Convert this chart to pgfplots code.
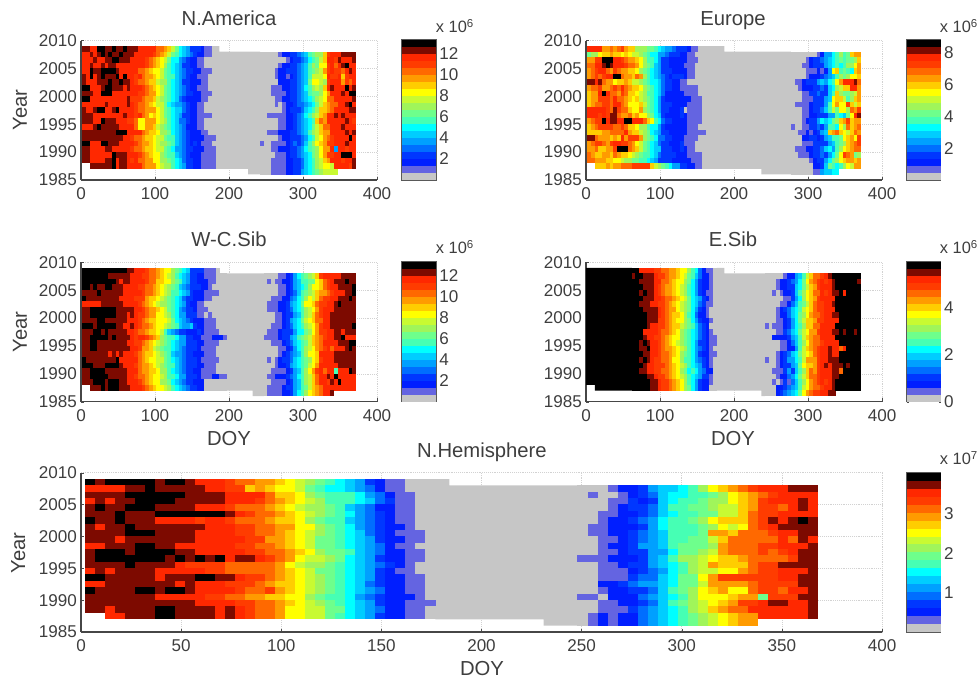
\documentclass[border=0pt]{standalone}
\usepackage{fontspec}
\setmainfont{Liberation Sans}
\usepackage{pgfplots}
\usepackage{pgfplotstable}
\pgfplotsset{compat=1.18}
\definecolor{lvgray}{RGB}{198,198,198}
\definecolor{txt}{RGB}{62,62,62}
\pgfplotsset{colormap={snow}{rgb255=(198,198,198) rgb255=(100,100,225) rgb255=(0,30,255) rgb255=(0,55,255) rgb255=(0,110,255) rgb255=(0,160,255) rgb255=(0,205,255) rgb255=(0,255,255) rgb255=(70,255,180) rgb255=(110,255,140) rgb255=(160,245,90) rgb255=(200,250,50) rgb255=(255,255,0) rgb255=(255,205,0) rgb255=(255,155,0) rgb255=(255,105,0) rgb255=(255,60,0) rgb255=(255,40,0) rgb255=(125,10,0) rgb255=(0,0,0)}}
\pgfdeclareplotmark{cS}{\pgfpathrectangle{\pgfpoint{-1.5pt}{-2.2pt}}{\pgfpoint{3pt}{4.4pt}}\pgfusepathqfill}
\pgfdeclareplotmark{cL}{\pgfpathrectangle{\pgfpoint{-3.85pt}{-2.5pt}}{\pgfpoint{7.7pt}{5pt}}\pgfusepathqfill}
\pgfdeclareplotmark{bS}{\pgfpathrectangle{\pgfpoint{-12.75pt}{-2.72pt}}{\pgfpoint{25.5pt}{5.44pt}}\pgfusepathqfill}
\pgfdeclareplotmark{bL}{\pgfpathrectangle{\pgfpoint{-12.75pt}{-3.08pt}}{\pgfpoint{25.5pt}{6.16pt}}\pgfusepathqfill}
\newcommand\tickfont{\fontsize{12.8}{14}\selectfont}
\pgfplotsset{
 base/.style={scale only axis,point meta min=0,point meta max=19,colormap name=snow,
  /pgf/number format/1000 sep={},/pgf/number format/assume math mode=true,
  tick label style={font=\tickfont,text=txt},tick style={gray!60!black}},
 heat/.style={base,xmin=0,xmax=400,ymin=1985,ymax=2010,ytick={1985,1990,...,2010},
  axis lines*=left,axis line style={gray!55!black,line width=.9pt},
  grid=major,grid style={gray!35,densely dotted,line width=.4pt},tickwidth=2.5pt,
  xticklabel style={yshift=-2.5pt},yticklabel style={xshift=0.5pt}},
 small/.style={heat,width=222pt,height=104.6pt,xtick={0,100,...,400}},
 large/.style={heat,width=600.75pt,height=119.5pt,xtick={0,50,...,400}},
 cbar/.style={base,xmin=0,xmax=1,ymin=0,ymax=20,xtick=\empty,width=25.5pt,yticklabel pos=right,
  axis line style={gray!70!black,line width=.8pt},tickwidth=1.5pt,yticklabel style={xshift=-1pt}},
}
\newcommand\heatmap[4]{\pgfplotsinvokeforeach{1,...,#2}{\addplot[scatter,only marks,mark=#4,scatter src=explicit,scatter/use mapped color={fill=mapped color}] table[x expr={\thisrowno{##1}*0+#3+5*##1-2.5},y expr={\thisrowno{0}+0.5},meta index=##1]{#1};}}
\newcommand\colbar[1]{\addplot[scatter,only marks,mark=#1,scatter src=explicit,scatter/use mapped color={fill=mapped color}] table[x index=0,y index=1,meta index=2]{\cbtab};}
% Values below are colour-bin indices 0..19 (bin width = colour bar range / 20), read per 5-day cell and year.
\pgfplotstableread[header=false]{
0.5 0.5 0
0.5 1.5 1
0.5 2.5 2
0.5 3.5 3
0.5 4.5 4
0.5 5.5 5
0.5 6.5 6
0.5 7.5 7
0.5 8.5 8
0.5 9.5 9
0.5 10.5 10
0.5 11.5 11
0.5 12.5 12
0.5 13.5 13
0.5 14.5 14
0.5 15.5 15
0.5 16.5 16
0.5 17.5 17
0.5 18.5 18
0.5 19.5 19
}\cbtab
% N.America
\pgfplotstableread[header=false]{
2008 18 18 18 17 17  19 19 18 18 19  18 18 19 18 18  18 17 17 17 17  17 15 15 14 13  11 9 7 6 5  3 3 3 2 1  1 0
2007 17 17 17 18 17  18 19 18 19 18  18 19 18 18 18  17 17 17 17 17  16 15 14 13 11  9 8 7 6 5  4 3 2 2 1  1 0
2006 17 17 17 17 18  17 17 18 18 19  19 18 18 18 17  17 17 17 16 15  14 13 12 11 9  7 7 5 4 3  2 2 1 1 0  0 0
2005 17 17 17 18 17  17 18 17 18 18  17 17 17 17 17  17 17 17 16 15  14 13 12 10 8  7 6 5 3 3  2 2 1 1 0  0 0
2004 17 17 17 19 18  18 19 19 19 19  18 17 17 17 17  17 15 15 14 13  12 12 11 9 8  7 6 5 4 3  3 2 2 1 1  1 0
2003 18 18 17 19 17  18 19 18 18 18  19 17 19 17 17  16 17 15 14 14  13 12 11 9 8  8 6 5 4 3  2 2 1 1 1  0 0
2002 18 18 17 17 17  18 18 18 19 18  18 19 18 18 17  16 15 15 14 13  13 11 10 10 8  7 6 5 3 3  2 2 2 1 1  0 0
2001 19 19 19 17 17  17 18 19 19 18  18 18 17 18 17  17 17 16 15 14  13 12 11 9 8  7 6 5 4 3  2 2 1 1 1  0 0
2000 18 18 18 18 17  17 19 19 19 17  17 17 17 17 17  17 16 16 15 14  14 12 11 9 8  7 6 5 4 3  3 2 2 1 1  1 0
1999 19 19 19 17 17  17 17 17 17 17  17 17 17 18 16  16 16 15 14 14  13 11 10 9 8  7 6 4 3 2  2 2 2 1 1  0 0
1998 17 17 17 17 17  17 17 18 17 17  17 17 17 18 17  16 15 15 14 13  12 11 11 9 7  6 5 5 4 3  2 2 1 1 0  0 0
1997 17 18 17 17 18  19 19 17 17 18  19 17 17 17 17  16 15 15 14 14  14 12 11 9 8  7 6 6 4 3  2 2 1 1 0  0 0
1996 18 18 18 18 17  17 17 17 17 17  17 17 18 17 17  16 17 15 14 12  13 12 11 9 8  7 6 5 3 3  2 2 1 1 1  1 0
1995 18 18 18 18 17  17 19 18 18 18  17 17 17 16 16  15 12 12 14 14  14 12 11 10 8  7 6 4 4 3  2 2 1 1 0  0 0
1994 17 17 17 17 18  19 18 18 18 18  18 17 17 17 17  15 12 12 14 14  13 11 10 9 8  7 6 5 4 2  2 2 1 1 0  0 0
1993 18 18 18 18 18  18 18 18 18 18  19 19 19 17 17  17 17 15 14 13  13 12 10 10 9  7 6 5 4 3  2 2 2 1 1  0 0
1992 18 18 18 18 18  18 18 18 18 18  18 18 17 17 16  15 15 14 13 13  12 11 11 9 8  8 6 5 4 3  2 2 2 2 1  1 1
1991 19 19 19 17 17  17 19 19 18 18  18 17 17 17 17  16 15 14 14 13  12 11 10 10 9  8 6 5 4 3  2 3 2 1 1  1 0
1990 18 18 18 17 17  17 17 18 18 17  17 17 17 17 16  15 15 14 13 13  12 11 11 9 8  7 5 5 4 3  3 2 2 2 1  1 1
1989 18 18 18 17 17  17 17 17 17 19  18 18 18 17 17  17 16 15 14 13  12 12 10 9 8  8 6 5 4 3  2 2 2 1 1  1 1
1988 18 18 18 17 17  17 17 18 18 19  17 18 18 17 16  17 15 15 14 14  12 12 10 10 9  8 7 6 4 3  3 2 2 1 1  1 1
1987 nan nan nan 18 18  18 18 18 18 19  17 18 18 17 17  17 17 15 14 14  14 12 11 10 10  8 7 6 5 3  3 2 2 1 1  1 1
}\naL
\pgfplotstableread[header=false]{
2007 0 0 0 0 0  1 2 2 3 3  4 5 6 8 9  10 10 13 16 17  17 17 18 18 18  18
2006 0 0 0 0 0  0 0 1 2 3  3 4 5 7 8  9 11 13 17 17  16 18 17 17 17  18
2005 0 0 0 0 0  1 2 2 3 3  4 5 6 8 10  9 12 12 16 17  15 17 18 19 17  17
2004 0 0 0 0 1  2 2 3 3 3  4 5 6 8 9  10 11 14 16 17  16 16 15 17 18  17
2003 0 0 0 0 1  2 2 1 2 3  4 5 6 8 11  11 11 12 17 16  16 17 13 16 17  17
2002 0 0 0 0 0  2 2 2 3 3  4 5 6 9 12  12 11 10 16 17  17 17 14 16 15  17
2001 0 0 0 1 1  1 2 2 3 3  4 5 7 8 10  11 10 13 17 18  17 17 17 19 17  18
2000 0 0 0 1 1  1 1 2 3 3  4 5 6 8 9  9 10 12 14 17  17 17 18 17 19  19
1999 0 0 0 0 1  1 2 2 3 3  4 5 6 7 8  10 11 12 15 15  17 17 17 17 17  18
1998 0 0 0 0 1  0 1 2 2 3  4 4 5 6 7  9 11 13 14 15  15 17 17 18 19  17
1997 0 0 0 0 0  0 1 2 3 3  3 4 6 7 8  10 13 13 14 15  17 17 17 17 18  18
1996 0 0 1 1 1  1 1 2 2 3  4 5 7 8 10  11 13 14 17 17  18 17 18 17 17  17
1995 0 0 0 0 0  1 1 2 2 3  4 5 6 7 8  13 15 14 17 17  17 17 17 18 17  16
1994 0 0 0 0 0  1 1 2 2 3  4 5 6 7 9  11 13 15 15 17  17 17 18 17 17  17
1993 0 0 1 1 1  2 2 2 3 3  4 5 6 8 10  11 13 14 14 17  17 17 17 18 17  18
1992 0 0 0 0 0  1 2 2 3 3  3 4 5 7 8  11 12 14 15 16  17 17 17 17 19  17
1991 1 0 0 1 1  1 1 2 3 4  3 4 6 8 10  12 13 14 16 16  17 17 17 18 17  17
1990 0 0 0 1 1  2 2 2 3 3  4 5 7 8 9  10 12 14 14 17  5 17 17 16 17  17
1989 0 0 0 0 1  1 1 2 3 3  4 5 6 7 9  10 12 14 16 16  17 17 19 19 19  17
1988 0 0 0 1 1  1 1 2 2 3  3 4 6 7 8  10 11 13 14 17  17 17 16 17 17  18
1987 0 0 0 1 1  1 1 2 2 3  3 4 6 7 8  10 11 12 12 11  17 17 17 17 16  18
1986 0 0 0 1 1  1 1 2 2 3  3 5 6 7 8  9 10 11 11 11  11 nan nan nan nan  nan
}\naR
% Europe
\pgfplotstableread[header=false]{
2008 17 17 17 17 17  14 14 15 14 15  16 14 13 13 10  10 10 9 9 8  7 6 5 5 4  3 3 3 2 1  1 0 0
2007 9 9 10 10 12  13 13 14 13 13  12 13 12 11 11  10 9 8 7 7  5 5 4 3 3  3 2 2 1 1  0 0 0
2006 14 14 14 16 16  19 19 19 17 17  16 15 14 14 13  12 10 8 8 7  5 3 3 2 2  2 2 2 1 1  1 0 0
2005 14 15 15 17 17  18 19 18 17 17  17 16 15 15 14  12 10 9 8 6  5 3 3 2 2  2 2 1 1 1  0 0 0
2004 13 14 15 16 17  17 15 14 16 15  14 14 13 13 12  10 9 8 7 6  5 3 3 3 2  2 2 2 1 1  0 0 0
2003 14 14 15 16 15  16 17 17 19 19  15 14 14 13 15  14 10 8 7 6  5 4 3 2 3  3 3 2 1 1  0 0 0
2002 18 18 18 17 18  15 14 14 12 13  13 14 13 11 11  10 9 8 7 7  6 4 3 3 2  2 1 1 0 0  0 0 0
2001 14 14 15 15 16  14 14 15 16 15  17 15 14 13 13  12 10 9 8 7  6 4 3 3 2  2 1 1 1 1  1 0 0
2000 13 13 14 14 17  19 17 15 15 14  16 15 13 13 12  11 10 8 8 7  6 4 2 2 2  2 2 1 1 1  1 0 0
1999 13 13 14 14 16  16 16 15 17 15  15 14 13 12 13  11 10 9 8 7  5 3 2 2 2  2 2 2 2 1  1 1 0
1998 13 13 14 15 15  16 16 15 17 17  15 14 12 12 12  13 11 9 8 7  5 3 3 3 2  2 2 2 1 1  1 1 0
1997 16 17 17 17 17  17 16 15 18 16  15 15 13 12 12  14 10 9 8 7  5 3 3 2 2  2 3 0 1 1  1 1 0
1996 17 17 17 17 16  17 16 18 18 15  14 14 15 13 14  12 12 10 9 7  6 3 2 2 2  2 3 2 1 1  1 1 0
1995 14 14 15 16 16  19 17 18 18 17  17 19 19 17 17  17 15 13 12 8  7 4 3 3 2  2 2 2 1 1  1 1 0
1994 12 13 14 15 16  16 16 16 15 15  16 15 13 13 12  10 10 8 7 7  5 3 2 2 2  2 2 2 1 1  1 0 0
1993 12 13 13 13 13  14 14 15 15 15  15 17 14 13 13  11 10 9 7 6  5 3 3 2 2  2 2 2 1 1  1 1 1
1992 18 18 18 15 14  14 14 13 14 13  17 14 16 16 16  14 10 9 8 7  4 4 3 3 2  2 2 1 1 1  1 0 0
1991 14 14 15 16 16  15 14 16 17 17  16 16 15 14 12  11 9 8 7 6  4 3 3 2 2  2 3 1 1 1  0 0 0
1990 14 14 14 15 13  13 14 14 16 19  19 19 15 14 13  11 9 8 7 6  6 3 3 3 2  2 3 2 1 1  0 0 0
1989 15 15 14 13 13  14 14 13 15 14  13 13 12 11 10  9 8 8 7 6  4 3 3 3 3  2 2 2 1 1  1 1 0
1988 15 15 15 14 14  14 13 13 12 12  11 10 10 9 9  8 8 7 6 5  3 3 3 3 2  2 2 2 2 1  1 1 0
1987 nan nan nan 13 13  13 14 13 14 14  15 15 15 16 16  16 16 16 13 11  10 9 8 7 5  5 3 3 2 2  1 1 0
}\euL
\pgfplotstableread[header=false]{
2007 0 0 0 0 0  0 0 1 2 5  5 7 8 10 8  9 13 14 14
2006 0 0 0 0 1  2 3 3 4 5  6 7 8 9 8  9 9 10 13
2005 0 0 0 1 1  2 3 3 3 5  6 7 8 7 8  10 10 12 14
2004 0 0 0 0 1  1 1 2 1 2  5 12 13 8 9  8 7 13 14
2003 0 0 0 0 1  2 2 2 3 4  5 6 8 10 9  10 12 12 13
2002 0 1 1 2 3  3 3 5 6 5  7 8 12 14 17  17 17 18 15
2001 0 0 1 2 2  2 3 3 4 3  6 7 10 11 13  13 17 17 14
2000 0 0 0 1 1  3 3 4 3 3  6 8 13 10 9  9 10 11 14
1999 0 0 0 1 1  1 3 3 3 5  6 12 13 13 11  8 10 13 14
1998 0 1 1 1 1  2 3 3 3 5  8 12 14 12 12  16 13 11 13
1997 0 0 0 1 1  2 3 3 4 6  8 11 9 12 12  10 15 14 16
1996 0 0 0 1 1  2 2 3 3 3  5 5 8 7 6  9 12 17 18
1995 0 0 0 1 2  3 3 5 7 6  7 9 10 13 14  16 13 14 14
1994 1 0 0 1 1  3 3 4 3 5  8 8 7 12 10  15 13 14 15
1993 0 0 1 1 2  1 2 3 5 6  13 14 15 13 12  11 13 15 14
1992 0 0 0 2 2  3 3 2 3 5  6 8 8 9 12  13 14 12 16
1991 0 0 0 1 1  1 3 3 3 3  5 6 8 9 10  13 14 15 16
1990 0 1 1 1 2  2 3 3 4 6  7 5 8 10 12  13 14 15 15
1989 0 0 1 1 1  2 3 3 4 3  5 7 9 12 16  15 14 9 10
1988 0 0 0 0 0  1 2 3 3 5  7 9 10 12 13  14 14 13 14
1987 0 0 0 0 0  0 2 2 3 6  9 8 7 8 10  12 11 14 14
1986 0 0 0 0 0  0 1 1 5 6  6 7 7 nan nan  nan nan nan nan
}\euR
% W-C.Sib
\pgfplotstableread[header=false]{
2008 19 19 19 19 19  19 19 19 19 19  19 19 19 18 18  17 17 17 16 15  15 14 13 12 12  10 9 8 7 6  3 3 3 3 1  1 1 0 nan nan
2007 19 19 19 19 19  19 19 19 18 18  18 18 18 18 17  17 17 16 16 15  15 14 13 12 11  10 8 7 6 5  3 3 2 2 1  1 1 0 0 0
2006 19 19 19 19 19  19 19 19 19 19  18 17 18 18 17  17 17 17 16 15  15 13 13 12 12  10 9 8 6 5  3 3 2 2 2  1 1 0 0 0
2005 19 19 19 18 19  18 18 19 19 18  18 18 17 17 17  17 16 16 15 15  14 13 12 11 10  9 8 6 5 4  3 3 3 2 2  1 0 0 0 0
2004 18 18 18 18 18  19 18 18 18 18  18 18 17 17 17  17 17 16 15 15  14 13 12 11 10  8 8 7 6 5  3 2 2 2 1  1 1 1 0 0
2003 19 19 18 18 18  18 18 18 18 18  18 17 17 17 17  16 16 16 14 13  13 12 11 10 9  8 7 6 4 3  3 2 2 2 1  1 0 0 0 0
2002 17 17 17 17 17  17 18 18 18 18  18 18 17 17 17  17 16 15 14 13  12 11 10 10 9  8 7 6 5 3  2 2 1 1 0  0 0 0 0 0
2001 18 18 18 19 19  19 19 19 19 19  18 18 18 18 18  17 17 16 15 14  14 13 12 11 9  8 7 5 4 3  3 2 1 1 1  0 0 0 0 0
2000 18 18 18 19 19  19 19 19 19 19  18 18 18 17 18  17 16 16 15 14  14 12 12 11 10  8 7 5 5 3  3 3 1 1 0  1 0 0 0 0
1999 18 18 18 18 18  19 19 18 18 18  18 18 18 17 17  17 16 15 14 13  13 12 12 12 11  9 7 6 5 4  3 2 2 2 1  1 1 0 0 0
1998 19 19 19 19 18  19 19 19 19 19  18 18 17 17 18  17 16 15 15 14  13 12 12 11 10  9 8 6 5 5  6 3 2 2 1  1 1 0 0 0
1997 18 18 18 18 19  19 18 19 18 18  18 18 18 17 17  16 15 15 14 13  13 12 11 8 6  5 4 3 3 2  2 2 3 2 1  1 1 1 0 0
1996 18 18 18 19 19  19 19 19 18 19  18 18 18 18 17  16 17 17 16 15  14 13 10 9 8  8 7 5 5 3  3 2 2 1 1  1 2 2 2 1
1995 18 18 18 19 19  18 18 18 18 18  18 18 18 17 17  16 16 15 14 13  12 11 10 9 8  7 6 5 5 3  3 3 2 2 1  1 1 1 0 0
1994 18 18 18 19 19  18 18 18 18 18  18 18 18 18 17  17 16 14 14 13  11 10 9 8 8  7 6 5 4 3  3 3 2 1 1  1 1 0 0 0
1993 18 18 18 18 18  18 18 18 17 18  17 18 17 17 17  16 15 14 13 13  12 11 10 9 8  6 5 5 4 3  3 2 2 2 1  1 1 0 0 0
1992 19 19 18 18 18  18 18 18 18 18  19 17 17 17 17  17 15 14 13 12  12 11 11 9 8  7 6 5 4 3  3 3 2 1 1  1 1 1 0 0
1991 19 19 19 19 18  18 18 19 19 19  19 18 17 17 17  16 15 14 14 13  12 11 10 9 8  8 6 5 4 3  3 3 2 2 1  1 1 0 0 0
1990 18 18 18 19 19  19 19 18 18 18  18 18 18 17 17  17 15 14 14 13  13 12 10 10 8  7 6 5 4 3  3 2 2 1 1  1 1 0 0 0
1989 18 18 18 19 19  19 19 19 18 18  18 18 18 17 17  16 15 15 14 13  12 12 11 10 8  8 7 5 5 3  3 3 2 1 1  1 2 2 1 1
1988 19 18 18 18 19  19 19 18 19 19  19 18 18 17 17  17 16 15 14 13  12 12 10 10 9  7 6 5 4 3  3 2 2 2 0  0 0 0 0 0
1987 nan nan nan 18 18  18 19 18 19 19  19 18 18 18 17  17 17 16 15 14  13 12 12 11 10  8 7 6 5 4  3 3 2 2 0  0 0 0 0 0
}\wcL
\pgfplotstableread[header=false]{
2007 0 0 0 0 1  1 2 3 5 7  8 9 10 11 13  16 17 17 17 17  17 18 18 18 18
2006 0 1 0 1 1  2 2 3 5 6  8 8 9 9 12  13 15 16 17 18  18 18 19 18 18
2005 0 0 0 0 1  1 2 3 5 6  7 8 10 12 12  13 15 16 17 17  18 18 18 18 19
2004 0 0 0 0 1  1 2 3 4 6  8 9 10 11 13  14 14 15 16 17  17 17 18 18 19
2003 0 0 1 1 1  2 2 4 5 7  8 10 12 11 13  15 16 16 17 17  18 18 18 19 18
2002 0 1 1 1 2  2 3 5 6 7  9 12 12 13 15  16 16 17 17 18  19 18 18 18 18
2001 0 1 1 1 2  2 3 4 6 7  8 10 11 12 14  16 17 17 17 18  18 18 18 18 18
2000 0 0 0 1 1  2 3 3 5 6  8 10 11 13 15  16 17 17 18 18  18 18 18 18 18
1999 0 0 0 1 1  2 3 5 6 7  9 11 12 13 15  15 17 17 18 18  18 18 18 18 18
1998 0 0 1 1 1  2 3 4 6 7  8 10 11 12 14  16 17 17 18 18  18 18 18 18 19
1997 0 1 1 1 2  3 3 3 5 7  7 9 10 12 14  16 16 17 17 18  18 17 18 18 18
1996 1 1 1 1 2  3 3 5 6 8  9 10 11 13 14  15 16 17 17 18  18 19 17 17 17
1995 0 0 1 1 1  2 3 4 6 7  8 9 11 13 14  15 17 17 17 17  18 18 18 19 19
1994 0 0 0 0 1  1 2 3 5 7  8 10 11 12 14  15 16 17 15 17  17 17 18 19 18
1993 0 0 0 0 1  2 3 4 5 6  8 10 12 12 13  17 17 17 17 18  18 18 18 18 18
1992 0 1 0 1 2  3 3 4 6 7  8 9 10 12 13  16 17 17 17 18  18 18 18 18 18
1991 0 0 0 1 2  2 3 5 6 7  8 9 11 12 14  17 17 17 17 17  18 18 18 18 18
1990 0 0 1 1 1  1 2 3 5 6  8 10 12 14 16  17 15 17 17 8  17 17 17 19 18
1989 0 1 1 2 2  2 3 4 5 7  8 10 11 13 15  17 17 18 17 19  17 17 17 17 17
1988 0 0 1 1 1  1 2 3 5 6  8 10 11 13 15  17 17 16 18 17  19 17 17 17 17
1987 0 1 1 1 1  2 3 3 5 6  8 9 11 13 14  15 17 17 17 17  17 17 17 17 17
1986 0 1 1 1 1  2 2 3 5 7  8 10 12 13 14  15 17 17 18 nan  nan nan nan nan nan
}\wcR
% E.Sib (the solid black block before DOY 62 is the polygon below)
\pgfplotstableread[header=false]{
2008 19 19  17 17 17 17 16  16 15 15 14 14  13 12 12 10 8  7 4 2 1 1  0
2007 18 19  19 18 18 18 17  16 16 15 14 14  13 12 11 9 8  6 4 2 2 1  0
2006 19 19  18 18 18 18 17  17 15 15 14 13  12 12 10 9 7  5 3 2 2 1  0
2005 19 19  19 18 18 18 17  16 15 14 14 13  12 11 10 8 7  5 3 2 2 1  0
2004 19 19  18 19 18 18 17  16 15 14 14 13  12 11 10 8 7  5 3 2 1 1  0
2003 19 19  19 18 18 18 17  17 16 15 15 14  13 12 11 9 7  6 5 3 2 1  0
2002 19 19  18 18 18 17 17  16 16 15 14 13  12 11 10 9 7  6 4 3 1 1  0
2001 19 19  19 18 18 18 18  17 16 15 14 14  12 11 10 9 7  5 3 2 1 0  0
2000 19 19  19 19 18 18 18  17 16 15 14 13  13 12 10 8 7  4 2 2 1 0  0
1999 19 19  19 19 18 18 18  16 16 15 14 13  12 12 10 9 7  5 3 2 2 1  0
1998 19 19  19 19 18 17 17  16 16 15 14 13  13 11 10 9 8  6 4 3 2 0  0
1997 19 19  19 17 17 17 17  16 15 15 14 13  12 10 9 8 7  6 4 3 2 1  0
1996 19 19  19 18 17 17 16  16 15 14 13 12  12 10 9 8 7  6 4 3 2 1  1
1995 19 19  18 19 18 17 17  16 15 14 13 12  11 10 9 8 7  5 3 3 2 1  1
1994 19 19  18 18 19 17 17  16 15 14 14 13  12 11 10 8 7  5 4 3 2 1  0
1993 19 19  19 18 18 17 17  16 15 15 14 13  12 10 9 8 7  5 3 2 2 1  1
1992 19 19  18 19 18 17 16  16 15 15 14 12  12 10 8 8 7  5 4 3 2 1  0
1991 19 19  19 18 17 17 16  16 16 15 14 13  12 11 10 8 7  6 5 3 2 1  0
1990 19 19  18 18 17 17 16  16 15 15 14 13  12 10 9 7 8  7 5 4 2 2  0
1989 19 19  19 19 18 18 17  16 16 15 14 13  12 11 10 8 7  6 5 3 3 1  0
1988 19 19  19 19 19 18 18  17 16 16 15 14  13 12 10 8 7  5 3 2 2 1  0
1987 19 19  19 19 19 18 18  17 16 16 15 14  13 12 10 9 7  5 3 2 2 0  0
}\esL
\pgfplotstableread[header=false]{
2007 0 0 0 0 0  1 2 2 5 6  8 11 13 15 15  16 17 18 19 19  19 19 19 19 19  19
2006 0 0 0 1 2  2 3 4 5 7  9 12 14 15 16  17 16 17 18 19  19 19 19 19 19  18
2005 0 0 0 1 2  2 3 3 6 7  9 11 13 14 16  17 17 17 18 19  19 19 19 19 19  19
2004 0 0 1 0 1  2 2 3 6 8  10 12 13 15 15  17 16 17 18 18  19 17 19 19 19  19
2003 0 0 0 0 0  1 1 3 5 7  10 12 13 14 16  17 17 17 17 19  19 19 19 19 19  19
2002 0 0 0 0 1  1 2 4 6 8  9 11 13 15 16  16 17 17 18 19  19 19 19 19 19  19
2001 0 0 0 1 2  3 4 6 7 8  11 12 13 15 16  16 17 17 17 19  19 19 19 19 19  19
2000 0 0 0 1 2  2 4 6 7 9  10 12 14 15 15  16 17 17 18 18  19 19 19 19 19  19
1999 0 0 0 1 1  2 3 5 7 9  11 13 13 14 16  16 17 17 17 17  19 19 19 19 19  19
1998 1 0 1 1 1  2 3 5 7 8  10 13 13 15 15  17 17 17 17 19  19 19 19 19 19  19
1997 0 0 0 1 1  3 4 6 7 9  11 12 14 14 16  17 17 17 18 18  19 18 19 19 18  19
1996 0 0 2 2 2  2 3 5 6 8  11 13 14 15 15  17 17 17 17 19  19 19 19 19 19  19
1995 0 0 0 0 1  1 2 4 6 8  10 12 14 15 15  16 17 17 17 17  19 19 19 19 19  19
1994 0 0 0 0 1  1 2 2 5 8  11 13 14 15 16  17 17 18 17 17  15 17 19 19 19  19
1993 0 0 0 1 2  3 4 6 7 9  11 12 13 15 16  17 17 18 17 17  19 19 19 19 19  19
1992 1 0 0 1 2  3 5 5 7 8  11 14 14 14 16  17 17 18 18 18  19 19 19 19 19  19
1991 0 0 0 1 2  3 3 5 6 9  12 13 13 14 16  17 18 17 18 18  18 19 18 19 19  19
1990 0 0 1 1 1  3 5 3 6 8  10 13 15 14 16  17 17 17 18 18  15 19 19 19 19  19
1989 0 0 0 1 2  2 4 5 7 9  11 13 15 15 16  17 17 17 18 18  19 19 19 19 19  19
1988 0 0 1 0 1  3 1 4 6 8  10 12 14 15 16  17 16 17 18 19  19 19 19 19 19  19
1987 0 0 0 2 2  3 4 5 6 8  11 12 14 15 15  16 17 17 18 19  19 19 19 19 19  19
1986 0 0 0 2 3  4 5 6 7 9  12 14 15 16 16  17 17 18 18 nan  nan nan nan nan nan  nan
}\esR
% N.Hemisphere
\pgfplotstableread[header=false]{
2008 19 18 19 19 19  19 19 18 19 19  18 17 17 17 16  15 15 14 14 13  12 11 10 9 8  7 6 5 3 2  1 1 0 0 0
2007 17 17 17 17 18  18 19 18 18 18  18 18 17 17 16  16 13 14 13 12  12 11 9 8 7  7 6 5 4 2  1 1 0 0 0
2006 18 18 18 18 19  19 19 19 19 19  18 18 18 18 17  17 17 17 15 13  13 12 10 9 8  8 8 7 5 4  2 1 1 0 0
2005 17 18 17 18 18  19 19 19 19 18  18 18 18 18 17  17 17 16 15 14  13 12 11 10 8  8 8 7 6 4  3 1 1 0 0
2004 18 19 18 18 19  19 19 18 18 18  18 17 17 17 16  15 15 15 14 13  12 11 10 10 9  8 6 5 4 2  2 1 1 0 0
2003 18 18 18 19 18  18 18 19 19 19  19 19 19 19 18  17 16 15 15 14  13 12 11 10 9  8 7 5 4 3  2 1 1 0 0
2002 19 18 18 19 18  18 18 17 17 17  17 16 17 17 16  15 15 15 14 13  13 12 10 9 8  8 6 5 4 3  2 1 1 0 0
2001 18 17 18 18 19  18 18 18 18 18  18 18 17 17 17  16 16 15 15 14  14 12 12 10 9  8 7 5 4 3  2 2 1 0 0
2000 18 18 18 18 19  19 19 18 18 18  18 17 17 17 17  16 16 15 15 14  13 12 11 10 9  8 7 6 4 3  2 1 1 1 0
1999 18 18 18 17 18  18 18 18 18 18  18 17 17 17 17  17 16 16 14 14  13 12 11 9 9  8 7 6 5 3  2 2 1 1 0
1998 17 17 18 18 18  19 19 18 18 17  17 17 17 17 17  16 16 15 15 14  13 12 11 9 9  8 7 6 5 4  2 1 1 0 0
1997 18 19 19 19 18  19 19 19 19 18  18 17 17 17 17  17 16 16 15 15  14 13 12 10 9  9 8 6 5 4  2 2 1 1 0
1996 18 19 19 19 19  19 19 19 18 19  18 19 18 19 17  18 18 17 16 15  14 12 11 11 10  9 7 6 5 3  2 2 1 1 0
1995 18 18 18 18 19  18 18 18 18 17  16 16 16 16 15  15 15 15 15 14  12 11 10 10 9  8 7 6 5 4  3 2 1 0 0
1994 17 18 17 18 18  18 18 17 17 17  17 17 16 16 15  15 15 15 15 14  13 12 11 9 9  8 7 6 5 3  2 1 1 0 0
1993 19 19 18 18 18  18 18 17 18 18  18 19 19 18 18  17 16 16 15 14  13 12 11 10 9  8 7 6 5 3  2 2 1 1 0
1992 17 17 18 18 18  18 18 18 18 17  18 17 17 17 16  16 16 15 14 13  13 12 11 10 9  8 7 6 4 3  2 2 1 1 0
1991 19 18 18 18 18  19 19 18 19 19  18 17 17 17 17  16 15 15 16 14  13 12 11 10 9  8 7 6 5 4  2 2 1 1 0
1990 18 18 18 18 18  18 18 17 17 17  17 17 16 16 15  15 14 14 13 13  12 12 10 9 8  8 7 5 4 3  2 2 2 1 0
1989 18 18 18 18 18  18 18 18 18 18  18 17 17 17 17  16 16 15 15 14  13 12 11 10 9  8 7 6 5 3  2 2 1 1 1
1988 18 18 17 18 18  18 18 19 19 18  18 18 18 17 18  17 16 15 15 14  12 12 11 11 9  9 7 6 5 4  2 2 1 1 0
1987 nan nan 17 17 18  18 18 19 19 18  18 18 18 17 18  17 16 15 15 14  12 12 11 11 9  8 7 6 5 3  2 2 1 1 0
}\nhL
\pgfplotstableread[header=false]{
2007 0 0 0 1 2  2 3 5 6 6  7 8 10 12 13  14 15 16 17 17  17 18 18 18
2006 0 1 0 0 1  2 3 4 6 7  7 8 8 9 10  12 13 14 15 16  17 17 17 17
2005 0 0 0 1 1  3 2 3 6 7  8 8 9 10 10  12 13 14 16 17  17 17 18 17
2004 0 0 0 1 2  3 3 4 6 8  8 9 9 10 11  11 13 14 16 16  15 17 18 17
2003 0 0 1 1 2  2 3 4 6 7  8 8 9 9 11  11 13 15 16 16  17 17 17 17
2002 0 0 1 2 2  3 4 5 7 8  8 9 10 12 13  13 13 15 16 18  17 18 19 18
2001 0 1 1 2 2  2 3 5 7 8  8 8 9 10 12  11 12 15 16 17  18 18 18 18
2000 0 1 1 2 2  3 4 5 6 8  8 8 9 14 14  13 15 15 15 16  17 17 18 18
1999 0 0 1 1 2  3 4 5 6 8  8 9 9 11 13  15 15 15 15 15  17 15 18 17
1998 0 0 1 2 2  3 5 5 6 8  9 9 9 10 14  15 15 15 16 16  17 17 17 18
1997 0 0 1 1 2  3 3 5 5 7  9 9 10 11 14  15 15 15 16 15  16 17 18 18
1996 1 1 1 2 2  2 3 5 6 8  10 10 11 12 13  13 14 15 15 15  15 16 18 18
1995 0 0 1 1 2  3 3 5 6 7  8 10 11 14 13  13 13 15 16 16  18 18 18 18
1994 0 0 1 1 1  2 3 4 5 7  8 10 11 11 12  12 14 15 16 16  17 17 17 18
1993 0 0 1 1 1  3 4 4 6 7  9 9 12 14 16  16 16 16 16 16  17 17 18 18
1992 0 0 2 2 3  4 5 5 6 7  9 9 11 14 14  14 14 15 16 16  16 16 18 18
1991 0 0 1 2 2  3 3 4 6 8  9 10 12 13 14  12 12 15 16 16  15 17 17 18
1990 1 1 0 2 2  2 4 5 6 7  8 10 12 12 12  13 14 14 9 16  16 16 18 18
1989 0 0 1 1 2  2 3 4 6 8  9 10 11 12 13  14 16 16 17 18  18 17 17 18
1988 0 0 1 1 1  3 4 5 6 7  8 10 11 13 14  15 15 17 17 17  17 17 17 18
1987 0 1 2 1 2  2 4 5 6 7  8 9 10 11 12  13 14 14 17 17  17 17 17 18
1986 0 1 2 1 2  2 4 5 6 7  8 9 10 11 12  13 14 14 nan nan  nan nan nan nan
}\nhR
\begin{document}
\begin{tikzpicture}
\path[use as bounding box] (0,0) rectangle (735pt,508.5pt);
% --- N.America
\begin{axis}[small,at={(60.75pt,373.5pt)},anchor=south west]
\addplot[draw=none,fill=lvgray,mark=none] coordinates {(182,1987)(226,1987)(226,1986)(242,1986)(242,2008)(187,2008)(187,2009)(182,2009)} --cycle;
\heatmap{\naL}{37}{-3}{cS}
\heatmap{\naR}{26}{242}{cS}
\end{axis}
\begin{axis}[cbar,height=105pt,at={(301.5pt,373.5pt)},anchor=south west,ytick={3,6,9,12,15,18},yticklabels={2,4,6,8,10,12}]
\colbar{bS}
\end{axis}
% --- Europe
\begin{axis}[small,at={(439.5pt,373.5pt)},anchor=south west]
\addplot[draw=none,fill=lvgray,mark=none] coordinates {(162,1987)(237,1987)(237,1986)(277,1986)(277,2008)(187,2008)(187,2009)(162,2009)} --cycle;
\heatmap{\euL}{33}{-3}{cS}
\heatmap{\euR}{19}{277}{cS}
\end{axis}
\begin{axis}[cbar,height=105pt,at={(680pt,373.5pt)},anchor=south west,ytick={4.545,9.09,13.64,18.18},yticklabels={2,4,6,8}]
\colbar{bS}
\end{axis}
% --- W-C.Sib
\begin{axis}[small,at={(60.75pt,207.2pt)},anchor=south west]
\addplot[draw=none,fill=lvgray,mark=none] coordinates {(197,1987)(232,1987)(232,1986)(247,1986)(247,2008)(197,2008)} --cycle;
\heatmap{\wcL}{40}{-3}{cS}
\heatmap{\wcR}{25}{247}{cS}
\end{axis}
\begin{axis}[cbar,height=105pt,at={(301.5pt,207.2pt)},anchor=south west,ytick={3,6,9,12,15,18},yticklabels={2,4,6,8,10,12}]
\colbar{bS}
\end{axis}
% --- E.Sib
\begin{axis}[small,at={(439.5pt,207.2pt)},anchor=south west]
\addplot[draw=none,fill=black,mark=none] coordinates {(-3,1988)(12,1988)(12,1987)(62,1987)(62,2009)(-3,2009)} --cycle;
\addplot[draw=none,fill=lvgray,mark=none] coordinates {(177,1987)(237,1987)(237,1986)(242,1986)(242,2008)(187,2008)(187,2009)(177,2009)} --cycle;
\heatmap{\esL}{23}{62}{cS}
\heatmap{\esR}{26}{242}{cS}
\end{axis}
\begin{axis}[cbar,height=105pt,at={(680pt,207.2pt)},anchor=south west,ytick={0,6.72,13.45},yticklabels={0,2,4}]
\colbar{bS}
\end{axis}
% --- N.Hemisphere
\begin{axis}[large,at={(60.75pt,34.5pt)},anchor=south west]
\addplot[draw=none,fill=lvgray,mark=none] coordinates {(177,1987)(231,1987)(231,1986)(248,1986)(248,2008)(184,2008)(184,2009)(177,2009)} --cycle;
\heatmap{\nhL}{35}{2}{cL}
\heatmap{\nhR}{24}{248}{cL}
\end{axis}
\begin{axis}[cbar,height=119.5pt,at={(680pt,34.5pt)},anchor=south west,ytick={4.94,9.88,14.8},yticklabels={1,2,3}]
\colbar{bL}
\end{axis}
% --- texts (y given at the text baseline)
\newcommand\tx[4][0]{\node[text=txt,rotate=#1,inner sep=0pt,anchor=base] at ({#2*0.75pt},{(678-#3)*0.75pt}) {#4};}
\def\ttl{\fontsize{15.2}{16}\selectfont}
\def\cbl{\fontsize{12.3}{13}\selectfont}
\tx{229}{26}{\ttl N.America}
\tx{733}{26}{\ttl Europe}
\tx{229}{247}{\ttl W-C.Sib}
\tx{733}{247}{\ttl E.Sib}
\tx{482}{458}{\ttl N.Hemisphere}
\tx[90]{27}{110}{\ttl Year}
\tx[90]{27}{332}{\ttl Year}
\tx[90]{25}{553}{\ttl Year}
\tx{229}{446}{\ttl DOY}
\tx{733}{446}{\ttl DOY}
\tx{482}{675}{\ttl DOY}
\tx{455}{33}{\cbl x 10\textsuperscript{6}}
\tx{959}{33}{\cbl x 10\textsuperscript{6}}
\tx{455}{254}{\cbl x 10\textsuperscript{6}}
\tx{959}{254}{\cbl x 10\textsuperscript{6}}
\tx{959}{465}{\cbl x 10\textsuperscript{7}}
\end{tikzpicture}
\end{document}
